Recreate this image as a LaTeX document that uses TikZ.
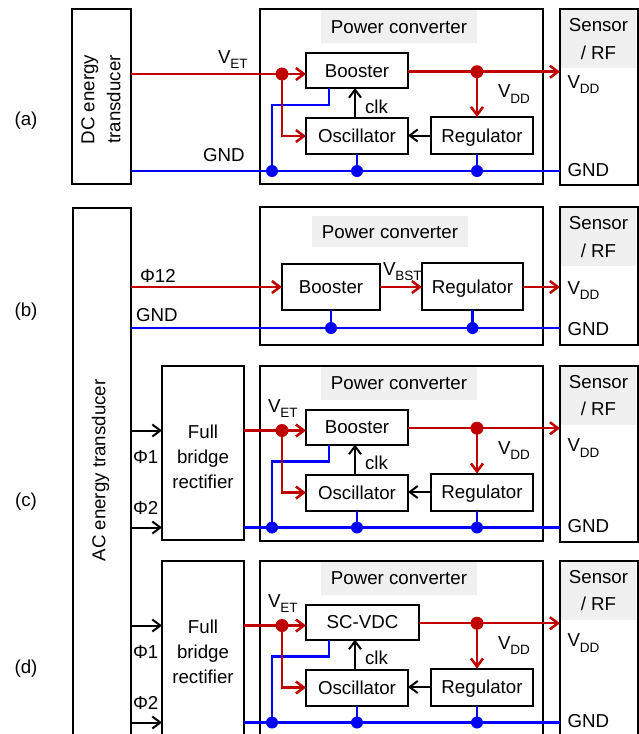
\documentclass[tikz,border=0pt]{standalone}
\usepackage{fontspec}
\setmainfont{Liberation Sans}
\usetikzlibrary{arrows.meta}
\definecolor{wred}{RGB}{192,0,0}
\definecolor{wblue}{RGB}{0,0,255}
\definecolor{lgray}{RGB}{240,240,240}
\newcommand\fsz{\fontsize{18.7}{22.5}\selectfont}
\newcommand\sbs[1]{\raisebox{-5.5pt}{\fontsize{13.5}{14}\selectfont #1}}
\tikzset{
  frame/.style={draw=black, line width=2pt, inner sep=0pt, outer sep=0pt},
  box/.style={frame, text height=13pt, text depth=0pt},
  graybox/.style={fill=lgray, inner sep=0pt, outer sep=0pt},
  capc/.style={text height=13pt, text depth=0pt},
  lbl/.style={inner sep=0pt, outer sep=0pt, anchor=base west},
  redw/.style={draw=wred, line width=2.5pt},
  bluew/.style={draw=wblue, line width=2.5pt},
  blkw/.style={draw=black, line width=2pt},
  barb/.style={-{Straight Barb[length=8pt,width=12pt]}},
}
% #1 prefix, #2 yshift, #3 first block text, #4 its centre x, #5 its width,
% #6 sensor VDD baseline, #7 left source node
\newcommand\convblock[7]{%
\begin{scope}[yshift=-#2pt]
  \node[frame, minimum width=283pt, minimum height=175pt] (#1pc) at (401.5,96.5) {};
  \node[graybox, capc, minimum width=156pt, minimum height=33pt] (#1pcl) at (399,26.5) {Power converter};
  \node[frame, minimum width=78pt, minimum height=176pt] (#1sen) at (599,97) {};
  \node[graybox, align=center, font=\fontsize{18.7}{27.4}\selectfont, minimum width=75pt, minimum height=58pt] (#1senl) at (598.5,39) {Sensor\\/ RF};
  \node[box, minimum width=#5pt, minimum height=35pt] (#1bst) at (#4,70.5) {#3};
  \node[box, minimum width=102pt, minimum height=36pt] (#1osc) at (357,136) {Oscillator};
  \node[box, minimum width=102pt, minimum height=37pt] (#1reg) at (482,135.5) {Regulator};
  \coordinate (#1vet) at (282,74);
  \coordinate (#1vdd) at (477,71.7);
  \coordinate (#1gnd) at (272,171);
  \coordinate (#1bw) at (329,105);
  \coordinate (#1clkx) at (355,105);
  % ground
  \draw[bluew] (#7.east |- #1gnd) -- (#1gnd -| #1sen.west);
  \draw[bluew] (#1bw |- #1bst.south) -- (#1bw) -| (#1gnd);
  \draw[bluew] (#1osc.south) -- (#1osc.south |- #1gnd);
  \draw[bluew] (#1vdd |- #1reg.south) -- (#1vdd |- #1gnd);
  % supply
  \draw[redw, barb] (#7.east |- #1vet) -- (#1vet -| #1bst.west);
  \draw[redw, barb] (#1vet) |- (#1osc.west);
  \draw[redw, barb] (#1bst.east |- #1vdd) -- (#1vdd -| #1sen.west);
  \draw[redw, barb] (#1vdd) -- (#1vdd |- #1reg.north);
  % control
  \draw[blkw, barb] (#1clkx |- #1osc.north) -- (#1clkx |- #1bst.south);
  \draw[blkw, barb] (#1reg.west) -- (#1reg.west -| #1osc.east);
  % dots
  \fill[wred] (#1vet) circle[radius=6.5pt];
  \fill[wred] (#1vdd) circle[radius=6.5pt];
  \fill[wblue] (#1gnd) circle[radius=6pt];
  \fill[wblue] (#1osc.south |- #1gnd) circle[radius=6pt];
  \fill[wblue] (#1vdd |- #1gnd) circle[radius=6pt];
  % labels
  \node[lbl] (#1vddl) at (498,97.5) {V\sbs{DD}};
  \node[lbl] (#1clkl) at (365,113) {clk};
  \node[lbl] (#1svdd) at (567.5,#6) {V\sbs{DD}};
  \node[lbl] (#1sgnd) at (567.5,176) {GND};
\end{scope}}

\begin{document}
\begin{tikzpicture}[x=1pt,y=-1pt,font=\fsz]
\path[use as bounding box, clip] (0,0) rectangle (639,734);

% ---------------- (a)
\node[frame, minimum width=59pt, minimum height=175pt] (dct) at (101.5,96.5) {};
\node[rotate=90, align=center, font=\fontsize{18.7}{26}\selectfont] (dctt) at (101,99.5) {DC energy\\transducer};
\convblock{a}{0}{Booster}{357}{102}{88.3}{dct}
\node[lbl] (aet) at (218,63.3) {V\sbs{ET}};
\node[lbl] (agndl) at (203,161) {GND};
\node (la) at (26,121) {(a)};

% ---------------- AC transducer
\node[frame, minimum width=58pt, minimum height=545pt] (act) at (101.5,480.5) {};
\node[rotate=90] (actt) at (100.5,470.5) {AC energy transducer};

% ---------------- (b)
\node[frame, minimum width=283pt, minimum height=138pt] (bpc) at (401.5,276) {};
\node[graybox, capc, minimum width=156pt, minimum height=31pt] (bpcl) at (390,231.5) {Power converter};
\node[frame, minimum width=78pt, minimum height=138pt] (bsen) at (599,276) {};
\node[graybox, align=center, font=\fontsize{18.7}{27.4}\selectfont, minimum width=75pt, minimum height=58pt] (bsenl) at (598.5,237) {Sensor\\/ RF};
\node[box, minimum width=98pt, minimum height=46pt] (bbst) at (331,287) {Booster};
\node[box, minimum width=101pt, minimum height=47pt] (breg) at (472.5,286.5) {Regulator};
\coordinate (bphi) at (140,287);
\coordinate (bgnd) at (140,328);
\draw[bluew] (act.east |- bgnd) -- (bgnd -| bsen.west);
\draw[bluew] (bbst.south) -- (bbst.south |- bgnd);
\draw[bluew] (breg.south) -- (breg.south |- bgnd);
\draw[redw, barb] (act.east |- bphi) -- (bphi -| bbst.west);
\draw[redw, barb] (bbst.east |- bphi) -- (bphi -| breg.west);
\draw[redw, barb] (breg.east |- bphi) -- (bphi -| bsen.west);
\fill[wblue] (bbst.south |- bgnd) circle[radius=6pt];
\fill[wblue] (breg.south |- bgnd) circle[radius=6pt];
\node[lbl] (bphil) at (140,282.3) {Φ12};
\node[lbl] (bgndl) at (136,321) {GND};
\node[lbl] (bbstl) at (383,275) {V\sbs{BST}};
\node[lbl] (bsvdd) at (567.5,294.3) {V\sbs{DD}};
\node[lbl] (bsgnd) at (567.5,335) {GND};
\node (lb) at (26,312) {(b)};

% ---------------- (c)
\node[frame, minimum width=82pt, minimum height=174pt] (crect) at (203,453) {};
\node[align=center, font=\fontsize{18.7}{25.3}\selectfont] (crectt) at (203,456.8) {Full\\bridge\\rectifier};
\convblock{c}{356.5}{Booster}{357}{102}{95.2}{crect}
\draw[blkw, barb] (act.east |- cvet) -- (cvet -| crect.west);
\draw[blkw, barb] (act.east |- cgnd) -- (cgnd -| crect.west);
\node[lbl] (cphi1) at (133,463.3) {Φ1};
\node[lbl] (cphi2) at (133,514.3) {Φ2};
\node[lbl] (cet) at (268,412) {V\sbs{ET}};
\node (lc) at (26,502) {(c)};

% ---------------- (d)
\node[frame, minimum width=82pt, minimum height=200pt] (drect) at (203,661) {};
\node[align=center, font=\fontsize{18.7}{25.3}\selectfont] (drectt) at (203,651.8) {Full\\bridge\\rectifier};
\convblock{d}{551.5}{SC-VDC}{362.5}{113}{95.2}{drect}
\draw[blkw, barb] (act.east |- dvet) -- (dvet -| drect.west);
\draw[blkw, barb] (act.east |- dgnd) -- (dgnd -| drect.west);
\node[lbl] (dphi1) at (133,658.3) {Φ1};
\node[lbl] (dphi2) at (133,709.3) {Φ2};
\node[lbl] (det) at (268,607) {V\sbs{ET}};
\node (ld) at (26,669) {(d)};
\end{tikzpicture}
\end{document}
